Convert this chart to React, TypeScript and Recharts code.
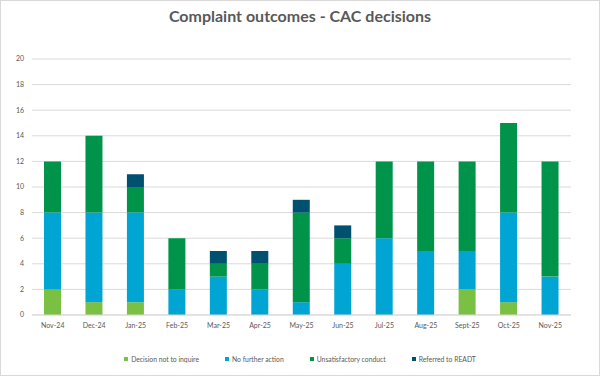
import { BarChart, Bar, XAxis, YAxis, CartesianGrid } from "recharts";

const months = [
  "Nov-24", "Dec-24", "Jan-25", "Feb-25", "Mar-25", "Apr-25", "May-25",
  "Jun-25", "Jul-25", "Aug-25", "Sept-25", "Oct-25", "Nov-25",
];
const notToInquire = [2, 1, 1, 0, 0, 0, 0, 0, 0, 0, 2, 1, 0];
const noFurtherAction = [6, 7, 7, 2, 3, 2, 1, 4, 6, 5, 3, 7, 3];
const unsatisfactory = [4, 6, 2, 4, 1, 2, 7, 2, 6, 7, 7, 7, 9];
const referredReadt = [0, 0, 1, 0, 1, 1, 1, 1, 0, 0, 0, 0, 0];
const yTicks = [0, 2, 4, 6, 8, 10, 12, 14, 16, 18, 20];

const series = [
  { key: "notToInquire", name: "Decision not to inquire", color: "#7AC143" },
  { key: "noFurtherAction", name: "No further action", color: "#00A5D4" },
  { key: "unsatisfactory", name: "Unsatisfactory conduct", color: "#00934A" },
  { key: "referredReadt", name: "Referred to READT", color: "#00506F" },
];

const data = months.map((m, i) => ({
  month: m,
  notToInquire: notToInquire[i],
  noFurtherAction: noFurtherAction[i],
  unsatisfactory: unsatisfactory[i],
  referredReadt: referredReadt[i],
}));

// tick marks sit between categories, like the original
const boundaryTicks = months.map((_, i) => i).concat([months.length]);

const font = "Lato, 'Open Sans', sans-serif";
const textColor = "#595959";

export default function App() {
  return (
    <div
      style={{
        position: "absolute",
        left: 0,
        top: 0,
        width: 600,
        height: 376,
        background: "#fff",
        fontFamily: font,
      }}
    >
      <div
        style={{
          position: "absolute",
          inset: 0,
          border: "1px solid #d9d9d9",
          boxSizing: "border-box",
        }}
      />
      <div
        style={{
          position: "absolute",
          top: 6,
          left: 0,
          width: 600,
          textAlign: "center",
          fontSize: 16,
          fontWeight: 700,
          color: textColor,
        }}
      >
        Complaint outcomes - CAC decisions
      </div>
      <BarChart
        width={600}
        height={376}
        data={data}
        margin={{ top: 59, right: 29, bottom: 41, left: 0 }}
        barSize={17}
      >
        <CartesianGrid vertical={false} stroke="#d9d9d9" />
        <XAxis
          xAxisId="bounds"
          type="number"
          domain={[0, months.length]}
          ticks={boundaryTicks}
          tick={false}
          axisLine={false}
          tickLine={{ stroke: "#d9d9d9" }}
          tickSize={5}
          height={0}
        />
        <XAxis
          dataKey="month"
          tick={{ fill: textColor, fontSize: 7 }}
          axisLine={{ stroke: "#d9d9d9" }}
          tickLine={false}
          interval={0}
          height={20}
        />
        <YAxis
          domain={[0, 20]}
          ticks={yTicks}
          tick={{ fill: textColor, fontSize: 7 }}
          axisLine={false}
          tickLine={false}
          width={32}
        />
        {series.map((s) => (
          <Bar
            key={s.key}
            dataKey={s.key}
            name={s.name}
            stackId="a"
            fill={s.color}
            isAnimationActive={false}
          />
        ))}
      </BarChart>
      <div
        style={{
          position: "absolute",
          top: 355,
          left: 0,
          width: 600,
          display: "flex",
          justifyContent: "center",
          gap: 26,
          fontSize: 6.8,
          color: textColor,
        }}
      >
        {series.map((s) => (
          <div key={s.key} style={{ display: "flex", alignItems: "center" }}>
            <span
              style={{
                width: 4,
                height: 4,
                background: s.color,
                display: "inline-block",
                marginRight: 3,
              }}
            />
            {s.name}
          </div>
        ))}
      </div>
    </div>
  );
}
